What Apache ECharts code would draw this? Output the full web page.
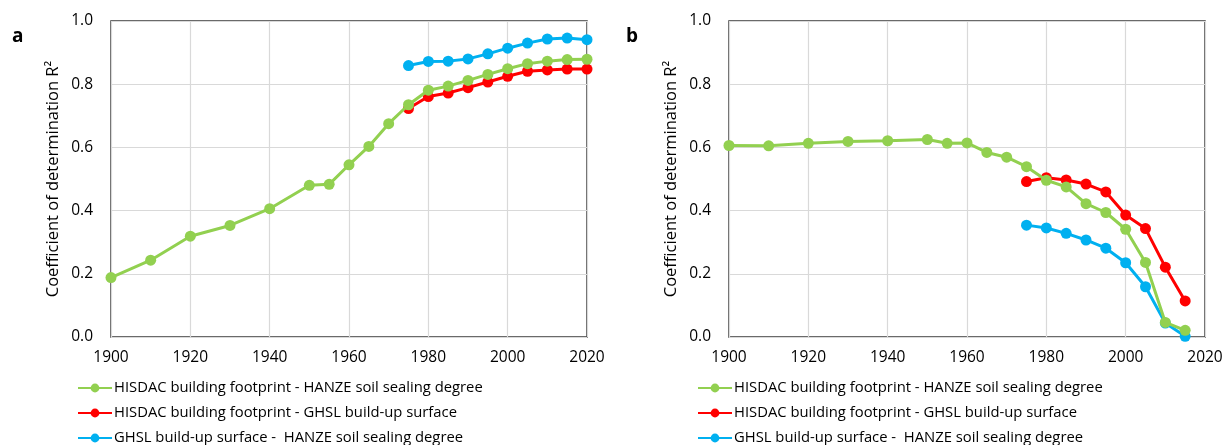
<!DOCTYPE html>
<html>
<head>
<meta charset="utf-8">
<script src="https://cdn.jsdelivr.net/npm/echarts@6/dist/echarts.min.js"></script>
<style>
html, body { margin: 0; padding: 0; background: #fff; }
#main { width: 1229px; height: 445px; }
</style>
</head>
<body>
<div id="main"></div>
<script>
var colors = ['#92d050', '#ff0000', '#00b0f0'];
var names = [
	'HISDAC building footprint - HANZE soil sealing degree',
	'HISDAC building footprint - GHSL build-up surface',
	'GHSL build-up surface -  HANZE soil sealing degree'
];
var xTicks = [1900, 1920, 1940, 1960, 1980, 2000, 2020];

// panel a
var yearsGreenA = [1900, 1910, 1920, 1930, 1940, 1950, 1955, 1960, 1965, 1970, 1975, 1980, 1985, 1990, 1995, 2000, 2005, 2010, 2015, 2020];
var greenA = [0.188, 0.243, 0.319, 0.353, 0.406, 0.480, 0.483, 0.545, 0.603, 0.675, 0.735, 0.781, 0.794, 0.812, 0.831, 0.849, 0.865, 0.873, 0.878, 0.879];
var yearsShortA = [1975, 1980, 1985, 1990, 1995, 2000, 2005, 2010, 2015, 2020];
var redA = [0.723, 0.761, 0.772, 0.789, 0.807, 0.825, 0.841, 0.845, 0.848, 0.848];
var blueA = [0.859, 0.872, 0.873, 0.880, 0.896, 0.914, 0.930, 0.943, 0.946, 0.941];

// panel b
var yearsGreenB = [1900, 1910, 1920, 1930, 1940, 1950, 1955, 1960, 1965, 1970, 1975, 1980, 1985, 1990, 1995, 2000, 2005, 2010, 2015];
var greenB = [0.606, 0.605, 0.613, 0.619, 0.621, 0.625, 0.613, 0.614, 0.584, 0.569, 0.539, 0.496, 0.475, 0.422, 0.394, 0.341, 0.236, 0.046, 0.021];
var yearsShortB = [1975, 1980, 1985, 1990, 1995, 2000, 2005, 2010, 2015];
var redB = [0.492, 0.504, 0.497, 0.484, 0.459, 0.386, 0.343, 0.221, 0.114];
var blueB = [0.354, 0.345, 0.328, 0.307, 0.281, 0.235, 0.159, 0.044, 0.002];

var font = '"Open Sans", "Noto Sans", sans-serif';

function pairs(xs, ys){
	return xs.map(function(x, i){ return [x, ys[i]]; });
}

function GetXAxis(idx){
	return {
		type: 'value', gridIndex: idx,
		min: xTicks[0], max: xTicks[xTicks.length - 1], interval: 20,
		axisLine: {show: false},
		axisTick: {show: false},
		splitLine: {show: true, lineStyle: {color: '#d9d9d9', width: 1.2}},
		axisLabel: {color: '#000', fontSize: 15.5, fontFamily: font, margin: 13,
			formatter: function(v){ return String(v); }}
	};
}
function GetYAxis(idx){
	return {
		type: 'value', gridIndex: idx,
		min: 0, max: 1, interval: 0.2,
		name: 'Coefficient of determination R²',
		nameLocation: 'middle', nameGap: 49, nameRotate: 90,
		nameTextStyle: {color: '#000', fontSize: 16.5, fontFamily: font},
		axisLine: {show: false},
		axisTick: {show: false},
		splitLine: {show: true, lineStyle: {color: '#d9d9d9', width: 1.2}},
		axisLabel: {color: '#000', fontSize: 15.5, fontFamily: font, margin: 18,
			formatter: function(v){ return v.toFixed(1); }}
	};
}
function GetSeries(idx, k, data){
	return {
		type: 'line', name: names[k],
		xAxisIndex: idx, yAxisIndex: idx,
		data: data,
		symbol: 'circle', symbolSize: 11,
		lineStyle: {color: colors[k], width: 3},
		itemStyle: {color: colors[k]},
		z: 10 - k,
		animation: false
	};
}
function GetLegend(left){
	return {
		left: left, top: 379.5, height: 80, padding: 0,
		orient: 'vertical',
		itemWidth: 34, itemHeight: 11, itemGap: 8,
		textStyle: {color: '#000', fontSize: 14.8, lineHeight: 17, fontFamily: font, padding: [0, 0, 0, -3]},
		data: names
	};
}

var chart = echarts.init(document.getElementById('main'));
chart.setOption({
	animation: false,
	graphic: [
		{type: 'text', left: 12, top: 27, style: {text: 'a', font: 'bold 19px ' + font, fill: '#000'}},
		{type: 'text', left: 626, top: 27, style: {text: 'b', font: 'bold 19px ' + font, fill: '#000'}}
	],
	grid: [
		{left: 111, top: 21, width: 476, height: 316, show: true, borderColor: '#3a3a3a', borderWidth: 1.5},
		{left: 729, top: 21, width: 476, height: 316, show: true, borderColor: '#3a3a3a', borderWidth: 1.5}
	],
	legend: [GetLegend(77), GetLegend(697)],
	xAxis: [GetXAxis(0), GetXAxis(1)],
	yAxis: [GetYAxis(0), GetYAxis(1)],
	series: [
		GetSeries(0, 0, pairs(yearsGreenA, greenA)),
		GetSeries(0, 1, pairs(yearsShortA, redA)),
		GetSeries(0, 2, pairs(yearsShortA, blueA)),
		GetSeries(1, 0, pairs(yearsGreenB, greenB)),
		GetSeries(1, 1, pairs(yearsShortB, redB)),
		GetSeries(1, 2, pairs(yearsShortB, blueB))
	]
});
</script>
</body>
</html>
